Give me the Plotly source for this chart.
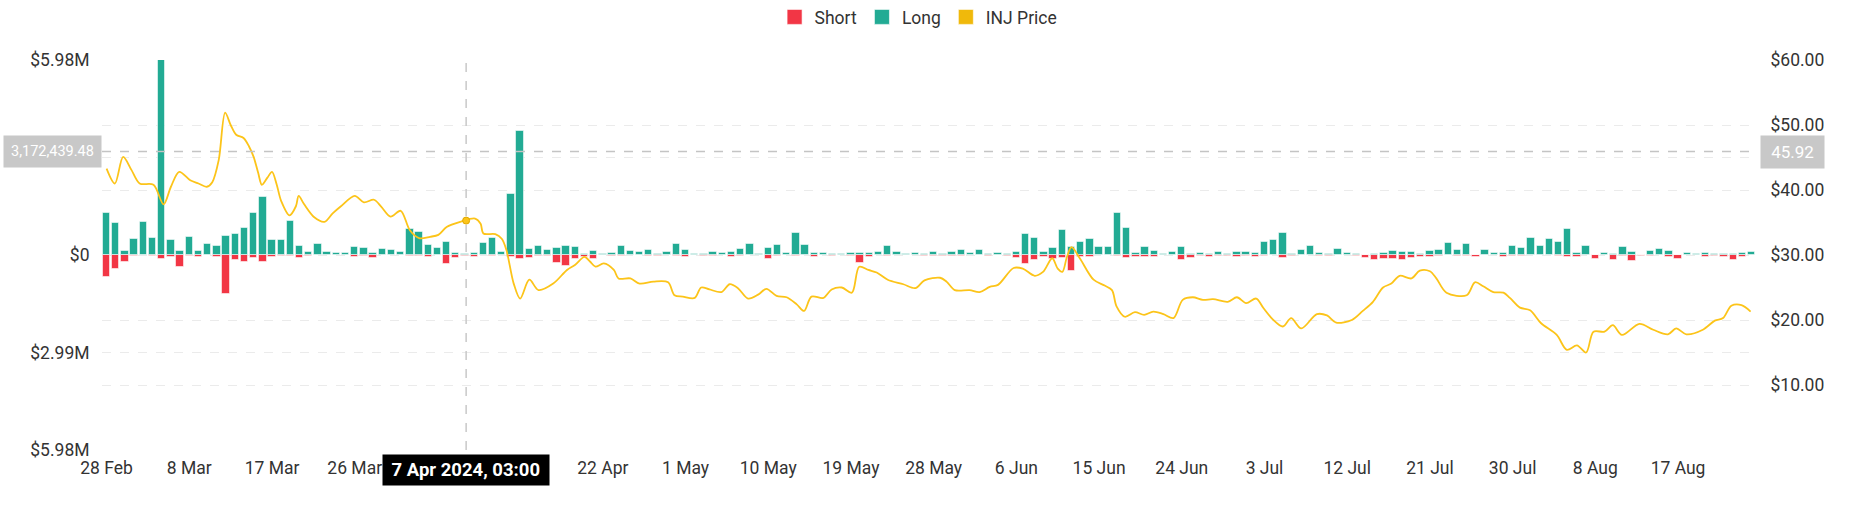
import numpy as np
import pandas as pd
import plotly.graph_objects as go

# daily long / short liquidations, in $M, starting 28 Feb 2024
start_date = "2024-02-28"
long_musd = [
    1.28, 0.97, 0.11, 0.49, 1.00, 0.53, 5.98, 0.45, 0.13, 0.55,
    0.11, 0.34, 0.27, 0.59, 0.64, 0.82, 1.29, 1.79, 0.45, 0.47,
    1.04, 0.29, 0.10, 0.34, 0.09, 0.05, 0.05, 0.25, 0.21, 0.06,
    0.18, 0.15, 0.08, 0.79, 0.70, 0.30, 0.22, 0.41, 0.05, 0.03,
    0.06, 0.37, 0.53, 0.08, 1.88, 3.79, 0.17, 0.29, 0.14, 0.21,
    0.29, 0.24, 0.02, 0.11, 0.02, 0.05, 0.29, 0.12, 0.09, 0.14,
    0.03, 0.09, 0.34, 0.14, 0.02, 0.03, 0.10, 0.07, 0.09, 0.17,
    0.34, 0.02, 0.21, 0.31, 0.05, 0.66, 0.31, 0.06, 0.06, 0.02,
    0.03, 0.06, 0.06, 0.06, 0.09, 0.27, 0.08, 0.03, 0.07, 0.02,
    0.10, 0.03, 0.09, 0.14, 0.06, 0.15, 0.04, 0.06, 0.04, 0.08,
    0.63, 0.51, 0.09, 0.22, 0.76, 0.26, 0.39, 0.50, 0.25, 0.25,
    1.29, 0.84, 0.05, 0.24, 0.11, 0.02, 0.10, 0.26, 0.02, 0.05,
    0.04, 0.09, 0.02, 0.10, 0.09, 0.05, 0.39, 0.45, 0.67, 0.03,
    0.14, 0.29, 0.06, 0.03, 0.17, 0.06, 0.03, 0.01, 0.03, 0.05,
    0.13, 0.09, 0.09, 0.03, 0.12, 0.14, 0.38, 0.16, 0.34, 0.01,
    0.15, 0.06, 0.06, 0.27, 0.20, 0.51, 0.27, 0.49, 0.39, 0.79,
    0.05, 0.28, 0.01, 0.05, 0.03, 0.24, 0.10, 0.01, 0.11, 0.18,
    0.12, 0.01, 0.05, 0.03, 0.06, 0.04, 0.02, 0.03, 0.05, 0.08,
]
short_musd = [
    0.66, 0.43, 0.22, 0.04, 0.01, 0.04, 0.13, 0.07, 0.36, 0.04,
    0.05, 0.01, 0.07, 1.21, 0.15, 0.21, 0.08, 0.21, 0.07, 0.02,
    0.04, 0.10, 0.02, 0.01, 0.01, 0.01, 0.01, 0.05, 0.02, 0.08,
    0.01, 0.01, 0.01, 0.02, 0.03, 0.05, 0.01, 0.29, 0.08, 0.02,
    0.05, 0.01, 0.02, 0.01, 0.06, 0.12, 0.08, 0.03, 0.03, 0.24,
    0.33, 0.12, 0.07, 0.13, 0.01, 0.03, 0.02, 0.01, 0.01, 0.02,
    0.03, 0.01, 0.02, 0.05, 0.01, 0.04, 0.02, 0.01, 0.07, 0.02,
    0.01, 0.01, 0.12, 0.03, 0.01, 0.02, 0.01, 0.06, 0.01, 0.02,
    0.01, 0.02, 0.26, 0.05, 0.01, 0.02, 0.01, 0.01, 0.01, 0.02,
    0.02, 0.02, 0.02, 0.02, 0.01, 0.01, 0.02, 0.01, 0.03, 0.09,
    0.27, 0.15, 0.05, 0.12, 0.10, 0.48, 0.05, 0.05, 0.01, 0.01,
    0.03, 0.08, 0.05, 0.05, 0.05, 0.01, 0.01, 0.14, 0.08, 0.03,
    0.05, 0.02, 0.02, 0.06, 0.04, 0.05, 0.02, 0.01, 0.08, 0.04,
    0.01, 0.01, 0.03, 0.03, 0.01, 0.01, 0.03, 0.08, 0.16, 0.12,
    0.12, 0.16, 0.09, 0.06, 0.05, 0.02, 0.01, 0.02, 0.02, 0.06,
    0.01, 0.01, 0.05, 0.02, 0.02, 0.01, 0.01, 0.01, 0.02, 0.05,
    0.05, 0.01, 0.11, 0.01, 0.16, 0.02, 0.19, 0.02, 0.02, 0.01,
    0.06, 0.11, 0.01, 0.01, 0.05, 0.04, 0.05, 0.15, 0.07, 0.01,
]

# INJ price, read at uneven points (days after 28 Feb)
price_day = [
    0.0, 0.9, 1.8, 2.7, 3.6, 5.1, 6.2, 7.0, 7.9, 9.1, 10.0, 10.9, 11.5, 12.2,
    12.9, 13.5, 14.1, 14.9, 15.5, 16.0, 16.5, 16.9, 17.5, 18.0, 18.5, 19.0,
    19.9, 20.6, 20.9, 21.5, 22.6, 23.7, 24.6, 25.5, 27.0, 28.0, 29.1, 29.9,
    30.9, 32.0, 33.0, 34.0, 35.2, 36.1, 37.0, 38.5, 40.1, 40.7, 41.0, 42.3,
    43.0, 43.5, 44.3, 45.0, 46.0, 47.0, 48.6, 50.1, 51.0, 52.0, 52.6, 53.2,
    54.1, 55.2, 55.7, 57.0, 58.0, 59.5, 61.1, 61.8, 62.7, 64.0, 64.7, 65.6,
    66.9, 67.8, 68.7, 69.8, 70.9, 71.8, 72.9, 74.0, 75.1, 75.9, 76.7, 78.0,
    78.9, 80.0, 81.1, 81.9, 82.9, 83.8, 85.0, 86.7, 88.0, 89.0, 90.7, 91.4,
    92.3, 93.9, 95.0, 96.1, 97.0, 98.7, 99.7, 101.0, 101.9, 102.9, 103.5,
    104.0, 104.5, 105.0, 105.9, 107.4, 108.6, 109.4, 109.9, 110.8, 111.9,
    112.9, 113.9, 115.0, 116.1, 117.1, 118.2, 119.3, 120.4, 122.0, 123.0,
    124.0, 125.1, 125.9, 126.9, 128.0, 128.9, 130.0, 131.7, 132.8, 133.8,
    135.5, 136.7, 137.8, 138.9, 139.8, 140.7, 142.0, 142.9, 144.0, 144.7,
    145.8, 148.0, 148.9, 149.8, 150.9, 152.0, 152.7, 153.8, 154.9, 156.1,
    157.8, 158.9, 160.0, 161.0, 161.8, 163.0, 163.9, 164.9, 166.8, 168.3,
    169.9, 170.8, 171.9, 173.7, 175.0, 175.9, 176.8, 177.9, 178.9,
]
price_usd = [
    43.3, 41.0, 45.1, 43.1, 41.0, 40.8, 37.8, 40.5, 42.8, 41.5, 41.0, 40.5, 41.2, 44.6,
    51.9, 50.0, 48.5, 48.0, 46.7, 45.1, 42.6, 40.8, 41.9, 42.8, 40.9, 38.3,
    36.1, 37.5, 39.1, 37.8, 35.8, 35.1, 36.4, 37.5, 39.1, 38.1, 38.5, 37.4,
    35.9, 36.8, 33.8, 32.6, 32.8, 33.1, 34.3, 35.1, 35.6, 34.8, 33.3, 33.2,
    32.5, 30.8, 25.6, 23.3, 26.2, 24.6, 25.6, 27.7, 28.5, 29.7, 29.0, 28.2,
    28.7, 27.7, 26.4, 26.4, 25.6, 25.9, 25.8, 23.8, 23.6, 23.4, 25.0, 24.7,
    24.3, 25.5, 24.9, 23.3, 23.9, 24.8, 23.7, 23.5, 22.4, 21.4, 23.6, 23.4,
    24.7, 25.0, 24.2, 28.2, 27.7, 27.3, 26.2, 25.5, 24.9, 26.1, 26.5, 25.9,
    24.6, 24.6, 24.3, 25.1, 25.4, 28.0, 27.9, 26.8, 27.4, 29.5, 27.9,
    27.4, 29.7, 31.2, 29.5, 26.2, 25.3, 24.6, 22.1, 20.5, 21.2,
    20.8, 21.3, 20.9, 20.3, 23.1, 23.5, 23.1, 23.2, 22.8, 23.5,
    22.6, 23.3, 21.8, 20.1, 19.0, 20.3, 18.7, 20.9, 20.7, 19.6,
    20.0, 21.4, 22.8, 25.0, 25.6, 26.8, 26.4, 27.6, 27.5, 26.4,
    24.2, 23.8, 25.8, 25.2, 24.3, 24.2, 23.4, 21.9, 21.5, 19.5,
    17.7, 15.4, 16.1, 15.0, 18.2, 18.2, 19.2, 17.7, 19.4, 18.5,
    17.8, 18.7, 17.8, 18.5, 19.9, 20.3, 22.2, 22.3, 21.3,
]
price_ticks = [10, 20, 30, 40, 50, 60]

# crosshair state shown in the screenshot
hover_day = 39.125
hover_label = "7 Apr 2024, 03:00"
cursor_price = 45.92
cursor_value = 3172439.48

RED = "#f23645"
TEAL = "#22ab94"
YELLOW = "#f0b90b"
LINE_YELLOW = "#fcc419"
FONT = "Roboto"
TICK_SIZE = 17.5

t0 = pd.Timestamp(start_date)
days = pd.date_range(t0, periods=len(long_musd), freq="D")
long_usd = np.array(long_musd) * 1e6
short_usd = np.array(short_musd) * 1e6
price_time = t0 + pd.to_timedelta(price_day, unit="D")
hover_time = t0 + pd.to_timedelta(hover_day, unit="D")
hover_price = float(np.interp(hover_day, price_day, price_usd))

# left axis: symmetric around zero, labels in absolute $M
ymax = max(long_usd.max(), short_usd.max())
left_ticks = [-ymax, -ymax / 2, 0, ymax / 2, ymax]
left_text = []
for v in left_ticks:
    if abs(v - cursor_value) < 0.1 * ymax:
        left_text.append("")  # covered by the crosshair badge
    elif v == 0:
        left_text.append("$0")
    else:
        left_text.append("${:.2f}M".format(abs(v) / 1e6))

# x ticks every 9 days; those under the date badge are not shown
x_ticks = pd.date_range(t0, days[-1], freq="9D")
x_text = ["" if abs((d - hover_time).total_seconds()) < 7 * 86400
          else "{} {}".format(d.day, d.strftime("%b")) for d in x_ticks]

bar_w = 0.8 * 86400000
bar_line = dict(color="rgba(255,255,255,0.55)", width=1)

fig = go.Figure()
fig.add_trace(go.Bar(x=days, y=-short_usd, name="Short", width=bar_w, showlegend=False,
                     marker=dict(color=RED, line=bar_line)))
fig.add_trace(go.Bar(x=days, y=long_usd, name="Long", width=bar_w, showlegend=False,
                     marker=dict(color=TEAL, line=bar_line)))
fig.add_trace(go.Scatter(x=price_time, y=price_usd, name="INJ Price", yaxis="y2",
                         mode="lines", showlegend=False,
                         line=dict(color=LINE_YELLOW, width=1.8, shape="spline", smoothing=0.9)))
fig.add_trace(go.Scatter(x=[hover_time], y=[hover_price], yaxis="y2", mode="markers",
                         showlegend=False,
                         marker=dict(color=LINE_YELLOW, size=7, line=dict(color="#e0a800", width=1))))

# legend: square swatches
for name, col in [("Short", RED), ("Long", TEAL), ("INJ Price", YELLOW)]:
    fig.add_trace(go.Scatter(x=[None], y=[None], mode="markers", name=name,
                             marker=dict(symbol="square", size=15, color=col,
                                         line=dict(color="rgba(255,255,255,0.6)", width=1))))

grid = dict(showgrid=True, gridcolor="#ebebeb", griddash="dash", gridwidth=1)

fig.update_layout(
    width=1852, height=525,
    margin=dict(l=102, r=97, t=60, b=75, autoexpand=False),
    paper_bgcolor="white", plot_bgcolor="white",
    barmode="relative", bargap=0,
    font=dict(family=FONT, size=TICK_SIZE, color="#333333"),
    showlegend=True,
    legend=dict(orientation="h", x=0.494, xanchor="center", y=1 - 17 / 525, yref="container",
                yanchor="middle", font=dict(size=TICK_SIZE, color="#333333"),
                traceorder="normal", itemclick=False),
    xaxis=dict(type="date",
               range=[t0 - pd.Timedelta(hours=12), t0 + pd.Timedelta(days=179, hours=9)],
               tickvals=x_ticks, ticktext=x_text,
               showgrid=False, zeroline=False, showline=False,
               ticks="outside", ticklen=2, tickcolor="rgba(0,0,0,0)"),
    yaxis=dict(range=[-ymax, ymax], tickvals=left_ticks, ticktext=left_text,
               zeroline=False, showline=False, ticks="outside", ticklen=8,
               tickcolor="rgba(0,0,0,0)", **grid),
    yaxis2=dict(range=[0, 60], overlaying="y", side="right",
                tickvals=price_ticks, tickformat="$.2f",
                zeroline=False, showline=False, ticks="outside", ticklen=11,
                tickcolor="rgba(0,0,0,0)", **grid),
)

# crosshair
fig.add_shape(type="line", xref="x", yref="paper", x0=hover_time, x1=hover_time, y0=0, y1=1,
              line=dict(color="#c8c8c8", width=1.5, dash="dash"))
fig.add_shape(type="line", xref="paper", yref="y2", x0=0, x1=1, y0=cursor_price, y1=cursor_price,
              line=dict(color="#c4c4c4", width=1.5, dash="dash"))

fig.add_annotation(x=0, xref="paper", y=cursor_value, yref="y", xanchor="right",
                   text="{:,.2f}".format(cursor_value), showarrow=False,
                   bgcolor="#c8c8c8", borderpad=7, font=dict(color="white", size=14.5))
fig.add_annotation(x=1, xref="paper", y=cursor_price, yref="y2", xanchor="left", xshift=5,
                   text="&nbsp;{:.2f}&nbsp;".format(cursor_price), showarrow=False,
                   bgcolor="#c8c8c8", borderpad=6, font=dict(color="white", size=17))
fig.add_annotation(x=hover_time, xref="x", y=0, yref="paper", yanchor="top", yshift=-4,
                   text="<b>&nbsp;" + hover_label + "&nbsp;</b>", showarrow=False,
                   bgcolor="black", borderpad=4, font=dict(color="white", size=18.5))

# page body has a default 8px margin; drop it so the chart sits at the window corner
fig.write_html("out.html", config={"displayModeBar": False},
               post_script="document.body.style.margin='0';")
